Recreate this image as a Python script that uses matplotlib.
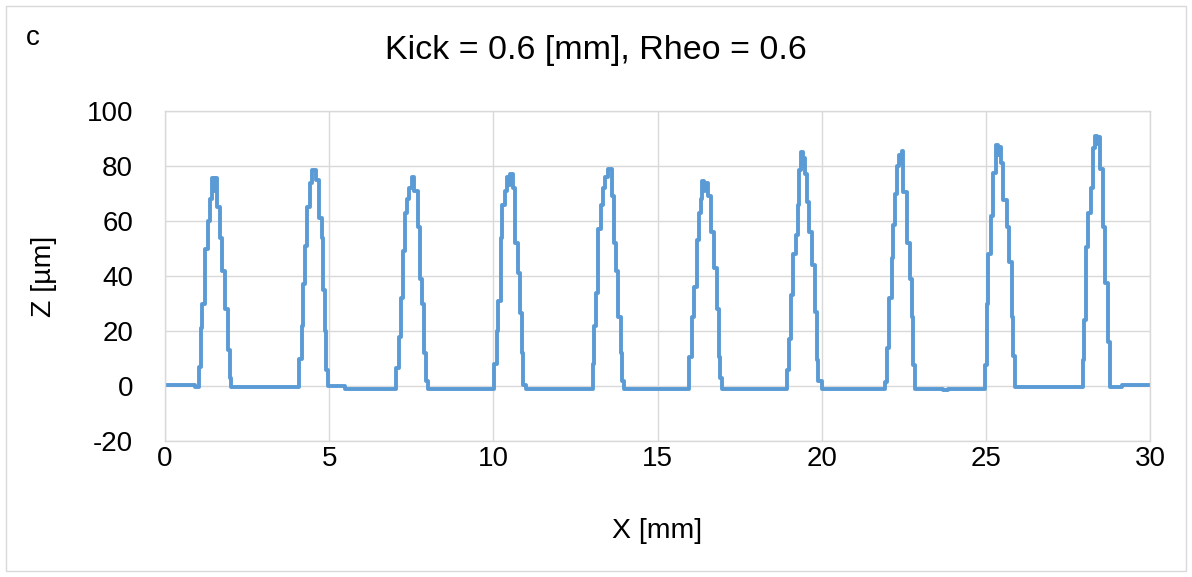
import matplotlib
matplotlib.use("Agg")
import matplotlib.pyplot as plt
from matplotlib.patches import Rectangle

plt.rcParams["font.family"] = ["Liberation Sans", "DejaVu Sans"]
plt.rcParams["axes.unicode_minus"] = False

# Stepped profile breakpoints: z holds from each x until the next x
profile_x = [
    0.00, 0.90,
    1.045, 1.087, 1.137, 1.218, 1.32, 1.37, 1.42, 1.48, 1.51, 1.59, 1.675, 1.745, 1.83, 1.93, 1.98, 2.00,
    4.08, 4.16, 4.19, 4.26, 4.32, 4.42, 4.47, 4.60, 4.70, 4.77, 4.80, 4.87, 4.90, 4.96, 5.48, 5.85,
    7.04, 7.14, 7.19, 7.24, 7.31, 7.36, 7.44, 7.51, 7.58, 7.72, 7.77, 7.82, 7.89, 7.95, 8.02,
    10.02, 10.10, 10.15, 10.22, 10.27, 10.36, 10.41, 10.47, 10.50, 10.59, 10.66, 10.76, 10.81, 10.86, 10.91, 11.00,
    13.03, 13.08, 13.13, 13.20, 13.27, 13.35, 13.40, 13.50, 13.61, 13.66, 13.74, 13.81, 13.88, 13.91, 13.98,
    15.96, 16.04, 16.12, 16.20, 16.27, 16.33, 16.37, 16.43, 16.46, 16.53, 16.63, 16.73, 16.80, 16.86, 16.91, 16.96,
    18.94, 19.01, 19.07, 19.14, 19.21, 19.27, 19.31, 19.37, 19.43, 19.46, 19.49, 19.55, 19.62, 19.70, 19.80, 19.85, 19.90, 20.00,
    21.93, 21.98, 22.06, 22.13, 22.18, 22.24, 22.29, 22.37, 22.42, 22.45, 22.49, 22.59, 22.69, 22.74, 22.79, 22.85, 23.70, 23.85,
    24.96, 25.03, 25.08, 25.16, 25.23, 25.30, 25.36, 25.39, 25.46, 25.53, 25.64, 25.71, 25.79, 25.84, 25.89,
    27.95, 27.99, 28.05, 28.12, 28.20, 28.26, 28.33, 28.40, 28.43, 28.48, 28.56, 28.63, 28.73, 28.78, 29.15, 30.00,
]
profile_z = [
    0.5, -0.3,
    7, 21, 30, 50, 60, 68, 75.5, 71, 75.5, 65, 54, 42, 28, 13, 3, -0.3,
    10, 22, 37, 51, 65, 74, 78.5, 75, 61, 54, 35, 20, 6, 0, -1.2, -1,
    6.5, 18, 32, 49, 63, 68, 72, 76, 71, 58, 39, 30, 12, 2, -1,
    8, 20, 31, 54, 66, 71, 76, 73, 77, 72, 52, 41, 26.5, 12, 0.5, -1,
    8, 22, 34, 57, 66, 72, 76, 79, 69, 52, 42, 25, 12, 2, -1,
    10.5, 25, 36, 53, 63, 68, 74.5, 71, 74, 69, 56, 43, 28, 10.5, 3, -1,
    6, 17, 33, 48, 55, 66, 78.5, 85, 80, 83, 77, 67, 56, 44, 27, 9.5, 2, -1,
    1.5, 14, 32, 46.5, 58.5, 70, 80, 84, 81, 85.5, 70.5, 52, 39, 25, 7.5, -1, -1.5, -1,
    7.5, 30, 48, 62, 77.5, 87.5, 84, 87, 81, 67.5, 58, 45, 25, 11, -0.5,
    9.5, 24, 50.5, 63, 72, 86.5, 91, 88, 90.5, 79, 58, 37.5, 16, -0.5, 0.3, 0.3,
]

x_ticks = [0, 5, 10, 15, 20, 25, 30]
y_ticks = [-20, 0, 20, 40, 60, 80, 100]

fig = plt.figure(figsize=(11.92, 5.77), dpi=100)
ax = fig.add_axes([165 / 1192, 1 - 441 / 577, 985 / 1192, 330 / 577])

ax.step(profile_x, profile_z, where="post", color="#5B9BD5", lw=2.8,
        solid_joinstyle="round", solid_capstyle="round")

ax.set_xlim(0, 30)
ax.set_ylim(-20, 100)
ax.set_xticks(x_ticks)
ax.set_yticks(y_ticks)
ax.grid(True, color="#D9D9D9", lw=1.0)
ax.set_axisbelow(True)
for sp in ax.spines.values():
    sp.set_color("#D9D9D9")
    sp.set_linewidth(1.0)
ax.tick_params(length=0, labelsize=20, colors="black")
ax.tick_params(axis="y", pad=23)
ax.tick_params(axis="x", pad=3.5)

ax.set_xlabel("X [mm]", fontsize=20.5, labelpad=33)
ax.set_ylabel("Z [µm]", fontsize=20.5, labelpad=21)

fig.text(0.5, 1 - 50 / 577, "Kick = 0.6 [mm], Rheo = 0.6", ha="center", va="center", fontsize=24.5)
fig.text(26 / 1192, 1 - 38 / 577, "c", ha="left", va="center", fontsize=20)

fig.patches.append(Rectangle((6 / 1192, 6 / 577), 1180 / 1192, 565 / 577, transform=fig.transFigure,
                             fill=False, edgecolor="#D9D9D9", lw=1.0))

fig.savefig("out.png", dpi=100)
